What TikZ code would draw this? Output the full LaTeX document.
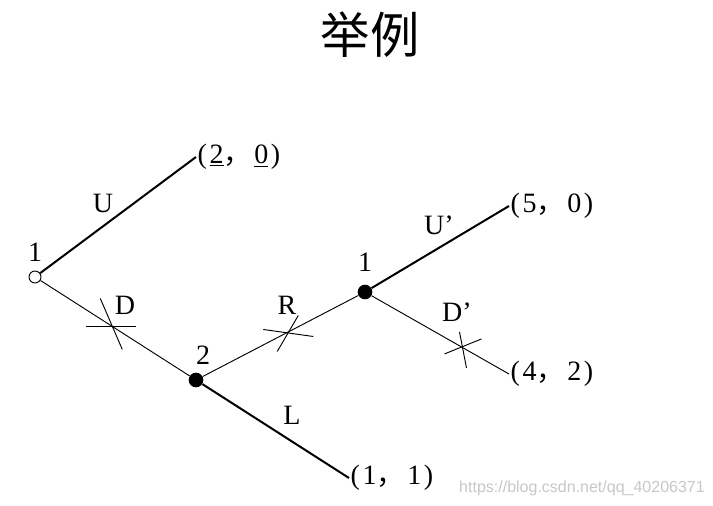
\documentclass[tikz,border=0pt]{standalone}
\usepackage{fontspec}
\setmainfont{Liberation Serif}
\setsansfont{Liberation Sans}
\newfontfamily\cjk{Noto Sans CJK SC}
\usetikzlibrary{calc}
\newcommand{\payoff}[2]{(\kern2pt#1{\cjk ，}\kern2pt#2\kern2pt)}
\tikzset{
  base/.style={font=\fontsize{21}{25}\selectfont, inner sep=1pt, text=black},
  lbl/.style={base},
  leaf/.style={base, anchor=west},
  opennode/.style={circle, draw, line width=0.7pt, fill=white, minimum size=9pt, inner sep=0pt},
  dotnode/.style={circle, fill=black, minimum size=11pt, inner sep=0pt},
  branch/.style={line width=0.7pt},
  best/.style={line width=1.5pt},
  cut/.style={line width=0.7pt},
}

\begin{document}
\begin{tikzpicture}[x=0.75pt,y=-0.75pt]
  \useasboundingbox (0,0) rectangle (713,506);
  % title
  \node[font=\cjk\fontsize{37}{40}\selectfont] (title) at (370,35) {举例};
  % decision nodes
  \node[opennode] (r) at (35,277) {};
  \node[dotnode] (n2) at (196,380) {};
  \node[dotnode] (n1) at (365,292) {};
  % outcomes
  \node[leaf] (o1) at (196,157) {\payoff{\underline{2}}{\underline{0}}};
  \node[leaf] (o2) at (509,206) {\payoff{5}{0}};
  \node[leaf] (o3) at (509,374) {\payoff{4}{2}};
  \node[leaf] (o4) at (349,478) {\payoff{1}{1}};
  % players and moves
  \node[lbl] (p1) at (35,252) {1};
  \node[lbl] (p2) at (203,355) {2};
  \node[lbl] (p3) at (365,262) {1};
  \node[lbl] (mU) at (103,203) {U};
  \node[lbl] (mD) at (125,305) {D};
  \node[lbl] (mR) at (287,305) {R};
  \node[lbl] (mL) at (292,415) {L};
  \node[lbl] (mU2) at (439,225) {U’};
  \node[lbl] (mD2) at (457,312) {D’};
  % branches
  \draw[best] (r) -- (o1.west);
  \draw[branch] (r) -- (n2);
  \draw[branch] (n2) -- (n1);
  \draw[best] (n2) -- (o4.west);
  \draw[best] (n1) -- (o2.west);
  \draw[branch] (n1) -- (o3.west);
  % cut marks
  \path (r.center) -- (n2.center) coordinate[pos=0.48] (cD);
  \path (n2.center) -- (n1.center) coordinate[pos=0.54] (cR);
  \path (n1.center) -- (o3.west) coordinate[pos=0.67] (cD2);
  \draw[cut] ($(cD)+(-26,0)$) -- ($(cD)+(24,0)$);
  \draw[cut] ($(cD)+(-12,-28)$) -- ($(cD)+(10,23)$);
  \draw[cut] ($(cR)+(-24,-3)$) -- ($(cR)+(26,4)$);
  \draw[cut] ($(cR)+(11,-17)$) -- ($(cR)+(-10,19)$);
  \draw[cut] ($(cD2)+(-17,7)$) -- ($(cD2)+(20,-8)$);
  \draw[cut] ($(cD2)+(-2,-15)$) -- ($(cD2)+(5,21)$);
  % watermark
  \node[font=\sffamily\fontsize{12}{14}\selectfont, text=black!22] (wm) at (582,488) {https://blog.csdn.net/qq\_40206371};
\end{tikzpicture}
\end{document}
